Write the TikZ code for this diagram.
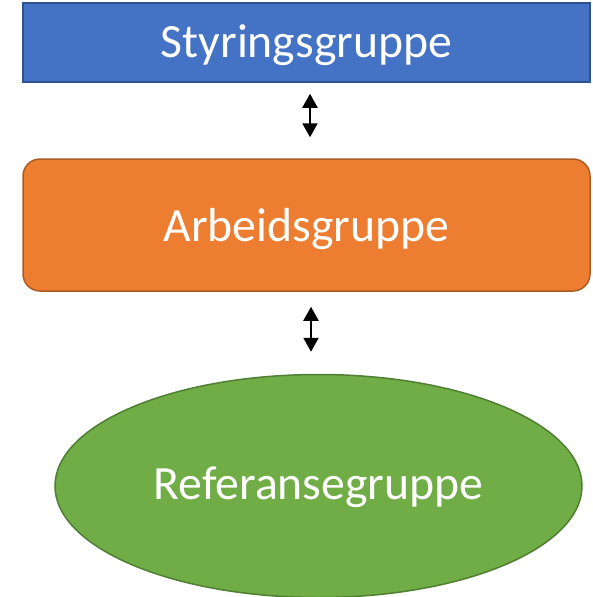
\documentclass[tikz,border=0pt]{standalone}
\usepackage{fontspec}
\setmainfont{Carlito}
\usetikzlibrary{shapes.geometric,arrows.meta}
\definecolor{blueFill}{HTML}{4472C4}
\definecolor{blueLine}{HTML}{2F528F}
\definecolor{orangeFill}{HTML}{ED7D31}
\definecolor{orangeLine}{HTML}{AE5A21}
\definecolor{greenFill}{HTML}{70AD47}
\definecolor{greenLine}{HTML}{507E32}
\tikzset{
  grouplabel/.style={text=white, font=\fontsize{47.7}{57}\selectfont, inner sep=0pt, text depth=0pt, line width=1.5pt},
  steering/.style={grouplabel, rectangle, fill=blueFill, draw=blueLine, minimum width=567pt, minimum height=79pt, text height=29pt},
  working/.style={grouplabel, rectangle, rounded corners=17pt, fill=orangeFill, draw=orangeLine, minimum width=567pt, minimum height=132pt, text height=32pt},
  reference/.style={grouplabel, ellipse, fill=greenFill, draw=greenLine, minimum width=527pt, minimum height=223pt, text height=26pt},
  link/.style={line width=2pt, {Triangle[length=14pt,width=15pt]}-{Triangle[length=14pt,width=15pt]}}
}
\begin{document}
\begin{tikzpicture}[x=1pt,y=-1pt]
  \useasboundingbox (0,0) rectangle (592,597);
  \node[steering]  (sty) at (306.5,42.5) {Styringsgruppe};
  \node[working]   (arb) at (306.5,225)  {Arbeidsgruppe};
  \node[reference] (ref) at (318.5,486)  {Referansegruppe};
  \draw[link, shorten <=11pt, shorten >=21pt] ([xshift=3.5pt]sty.south) -- ([xshift=3.5pt]arb.north);
  \draw[link, shorten <=15pt, shorten >=22pt] ([xshift=4.5pt]arb.south) -- ([xshift=-7.5pt]ref.north);
\end{tikzpicture}
\end{document}
